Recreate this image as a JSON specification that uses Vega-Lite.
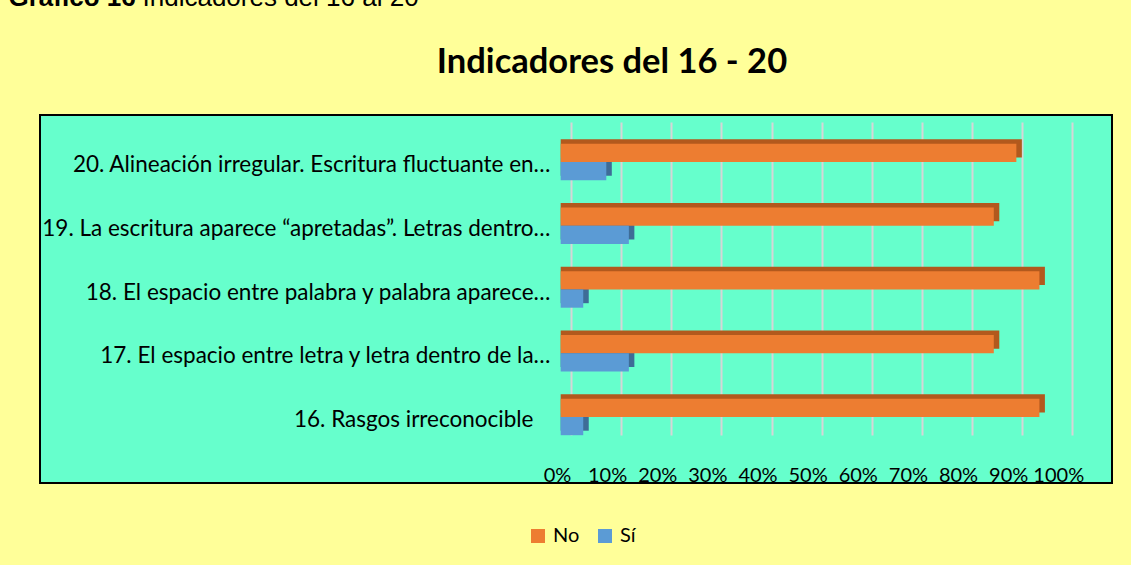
{
  "$schema": "https://vega.github.io/schema/vega-lite/v6.json",
  "width": 1072,
  "height": 368,
  "autosize": {"type": "none"},
  "padding": {"left": 40, "top": 115, "right": 19, "bottom": 82},
  "background": "#FFFF99",
  "config": {
    "view": {"fill": "#66FFCC", "stroke": "#000000", "strokeWidth": 2},
    "font": "Lato"
  },
  "data": {
    "values": [
      {"indicador": "20. Alineación irregular. Escritura fluctuante en…", "serie": "No", "porcentaje": 90.9},
      {"indicador": "20. Alineación irregular. Escritura fluctuante en…", "serie": "Sí", "porcentaje": 9.1},
      {"indicador": "19. La escritura aparece “apretadas”. Letras dentro…", "serie": "No", "porcentaje": 86.4},
      {"indicador": "19. La escritura aparece “apretadas”. Letras dentro…", "serie": "Sí", "porcentaje": 13.6},
      {"indicador": "18. El espacio entre palabra y palabra aparece…", "serie": "No", "porcentaje": 95.5},
      {"indicador": "18. El espacio entre palabra y palabra aparece…", "serie": "Sí", "porcentaje": 4.5},
      {"indicador": "17. El espacio entre letra y letra dentro de la…", "serie": "No", "porcentaje": 86.4},
      {"indicador": "17. El espacio entre letra y letra dentro de la…", "serie": "Sí", "porcentaje": 13.6},
      {"indicador": "16. Rasgos irreconocible", "serie": "No", "porcentaje": 95.5},
      {"indicador": "16. Rasgos irreconocible", "serie": "Sí", "porcentaje": 4.5}
    ]
  },
  "layer": [
    {
      "mark": {"type": "tick", "opacity": 0},
      "encoding": {
        "x": {
          "field": "porcentaje", "type": "quantitative",
          "scale": {"domain": [-105.93, 107.92], "nice": false, "zero": false},
          "axis": {
            "orient": "top", "values": [0, 10, 20, 30, 40, 50, 60, 70, 80, 90, 100],
            "grid": true, "gridColor": "#D6D6D6", "gridWidth": 2,
            "labels": false, "ticks": false, "domain": false,
            "title": "Indicadores del 16 - 20", "titleFont": "Lato", "titleFontSize": 34.5,
            "titleFontWeight": "bold", "titleColor": "#000000",
            "titleX": 571.5, "titleY": -43, "titleAlign": "center", "titleAnchor": "middle",
            "titleBaseline": "alphabetic"
          }
        },
        "y": {
          "field": "indicador", "type": "nominal",
          "scale": {"range": [7, 320]},
          "axis": null
        }
      }
    },
    {
      "mark": {"type": "bar", "xOffset": 5.5},
      "encoding": {
        "x": {
          "field": "porcentaje", "type": "quantitative", "stack": null,
          "scale": {"domain": [-103.87, 109.98], "nice": false, "zero": false},
          "axis": null
        },
        "y": {
          "field": "indicador", "type": "nominal",
          "scale": {
            "domain": [
              "20. Alineación irregular. Escritura fluctuante en…",
              "19. La escritura aparece “apretadas”. Letras dentro…",
              "18. El espacio entre palabra y palabra aparece…",
              "17. El espacio entre letra y letra dentro de la…",
              "16. Rasgos irreconocible"
            ],
            "range": [10.625, 329.375], "paddingInner": 0.429, "paddingOuter": 0.2145
          },
          "axis": null
        },
        "yOffset": {
          "field": "serie", "type": "nominal",
          "scale": {"domain": ["No", "Sí"], "paddingInner": 0, "paddingOuter": 0}
        },
        "color": {
          "condition": {"test": "datum.serie === 'No'", "value": "#B2591D"},
          "value": "#3E6C97"
        }
      }
    },
    {
      "mark": {"type": "bar"},
      "encoding": {
        "x": {
          "field": "porcentaje", "type": "quantitative", "stack": null,
          "scale": {"domain": [-103.87, 109.98], "nice": false, "zero": false},
          "axis": {
            "orient": "bottom", "values": [0, 10, 20, 30, 40, 50, 60, 70, 80, 90, 100],
            "labelExpr": "datum.value + '%'", "grid": false, "ticks": false, "domain": false,
            "labelPadding": -2, "labelBaseline": "alphabetic", "labelOffset": -3.7,
            "labelFont": "Lato", "labelFontSize": 20, "labelColor": "#000000",
            "labelFlush": false, "labelOverlap": false,
            "title": "Indicadores del 16 al 20", "titleFont": "Liberation Sans", "titleFontSize": 26,
            "titleFontWeight": "normal", "titleColor": "#000000",
            "titleX": 102, "titleY": -478, "titleAlign": "left", "titleAnchor": "start",
            "titleBaseline": "alphabetic"
          }
        },
        "y": {
          "field": "indicador", "type": "nominal",
          "scale": {
            "domain": [
              "20. Alineación irregular. Escritura fluctuante en…",
              "19. La escritura aparece “apretadas”. Letras dentro…",
              "18. El espacio entre palabra y palabra aparece…",
              "17. El espacio entre letra y letra dentro de la…",
              "16. Rasgos irreconocible"
            ],
            "range": [15.125, 333.875], "paddingInner": 0.429, "paddingOuter": 0.2145
          },
          "axis": {
            "orient": "left", "ticks": false, "domain": false,
            "labelPadding": {"condition": {"test": "datum.value === '16. Rasgos irreconocible'", "value": -493}, "value": -510},
            "labelAlign": "right", "labelBaseline": "alphabetic",
            "labelOffset": 10, "labelFont": "Lato", "labelFontSize": 22.5, "labelColor": "#000000",
            "labelLimit": 800,
            "title": "Gráfico 16", "titleAngle": 0, "titleX": -32, "titleY": -110,
            "titleAlign": "left", "titleAnchor": "start", "titleBaseline": "alphabetic",
            "titleFont": "Liberation Sans", "titleFontSize": 26, "titleFontWeight": "bold",
            "titleColor": "#000000"
          }
        },
        "yOffset": {
          "field": "serie", "type": "nominal",
          "scale": {"domain": ["No", "Sí"], "paddingInner": 0, "paddingOuter": 0}
        },
        "color": {
          "field": "serie", "type": "nominal",
          "scale": {"domain": ["No", "Sí"], "range": ["#ED7D31", "#5B9BD5"]},
          "legend": {
            "orient": "none", "legendX": 488, "legendY": 411, "direction": "horizontal",
            "title": null, "symbolType": "square", "symbolSize": 196, "symbolStrokeWidth": 0,
            "symbolOpacity": 1, "labelFont": "Lato", "labelFontSize": 20, "labelColor": "#000000",
            "columnPadding": 15, "labelOffset": 5, "padding": 0
          }
        }
      }
    }
  ],
  "resolve": {"scale": {"x": "independent", "y": "independent", "yOffset": "independent"}}
}
